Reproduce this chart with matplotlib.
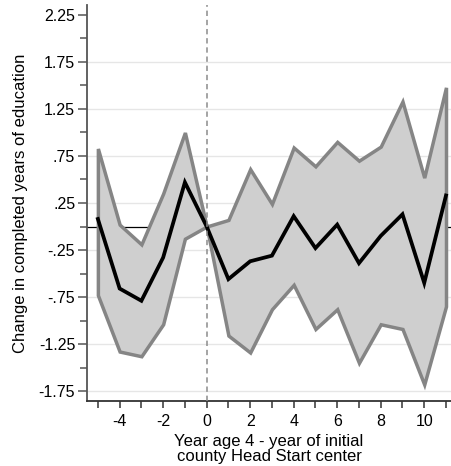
import matplotlib
matplotlib.use("Agg")
import matplotlib.pyplot as plt
import numpy as np

plt.rcParams['font.family'] = ['Liberation Sans', 'DejaVu Sans']

# Data
years = [-5, -4, -3, -2, -1, 0, 1, 2, 3, 4, 5, 6, 7, 8, 9, 10, 11]
estimate = [0.08, -0.66, -0.79, -0.33, 0.47, 0.0, -0.56, -0.37, -0.31, 0.11,
            -0.23, 0.02, -0.39, -0.10, 0.13, -0.60, 0.33]
upper_ci = [0.83, 0.02, -0.19, 0.35, 1.00, 0.0, 0.07, 0.61, 0.24, 0.84,
            0.64, 0.90, 0.70, 0.85, 1.33, 0.52, 1.48]
lower_ci = [-0.73, -1.33, -1.38, -1.04, -0.13, 0.0, -1.16, -1.34, -0.88, -0.62,
            -1.09, -0.88, -1.45, -1.04, -1.09, -1.68, -0.85]

ytick_values = [2.25, 1.75, 1.25, 0.75, 0.25, -0.25, -0.75, -1.25, -1.75]
ytick_labels = ["2.25", "1.75", "1.25", ".75", ".25", "-.25", "-.75", "-1.25", "-1.75"]
yminor_values = [2.0, 1.5, 1.0, 0.5, 0.0, -0.5, -1.0, -1.5]
xtick_values = [-4, -2, 0, 2, 4, 6, 8, 10]
xminor_values = [-5, -3, -1, 1, 3, 5, 7, 9, 11]

W, H = 451, 466
fig = plt.figure(figsize=(W / 100, H / 100), dpi=100)
ax = fig.add_axes([87 / W, 65 / H, 364 / W, 396 / H])

ax.set_xlim(-5.5, 11.23)
ax.set_ylim(-1.856, 2.356)

# grid lines (not at the top tick)
for v in ytick_values[1:]:
    ax.axhline(v, color='#e6e6e6', lw=1.0, zorder=0)

ax.axhline(0, color='black', lw=0.9, zorder=1)

band = ax.fill_between(years, lower_ci, upper_ci, facecolor='#cfcfcf',
                       edgecolor='#858585', linewidth=2.5, zorder=2)
band.set_joinstyle('miter')

ax.plot(years, estimate, color='black', lw=2.7, zorder=4,
        solid_joinstyle='miter')

ax.axvline(0, color='#8c8c8c', lw=1.1, ls=(0, (3.5, 2.5)), zorder=5)

ax.set_yticks(ytick_values)
ax.set_yticklabels(ytick_labels)
ax.set_yticks(yminor_values, minor=True)
ax.set_xticks(xtick_values)
ax.set_xticklabels([str(v) for v in xtick_values])
ax.set_xticks(xminor_values, minor=True)

for s in ['top', 'right']:
    ax.spines[s].set_visible(False)
ax.spines['left'].set_color('#555555')
ax.spines['left'].set_linewidth(1.3)
ax.spines['bottom'].set_color('#333333')
ax.spines['bottom'].set_linewidth(1.3)

ax.tick_params(axis='y', which='major', length=6.5, width=1.1, color='#555555',
               labelsize=11.5, pad=2)
ax.tick_params(axis='y', which='minor', length=5, width=1.1, color='#555555')
ax.tick_params(axis='x', which='both', length=5, width=1.1, color='#333333',
               labelsize=11.5, pad=4)

ax.set_ylabel("Change in completed years of education", fontsize=12)
ax.yaxis.set_label_coords(-0.162, 0.5)
ax.set_xlabel("Year age 4 - year of initial\ncounty Head Start center",
              fontsize=12, linespacing=1.0, labelpad=4)

fig.savefig("out.png", dpi=100)
